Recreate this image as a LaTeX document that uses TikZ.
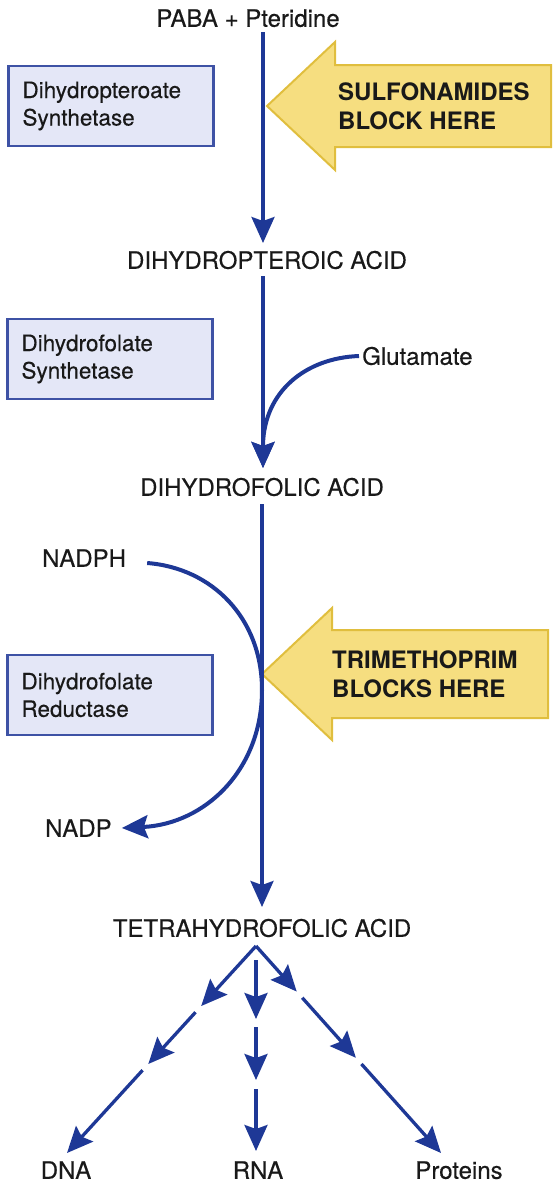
\documentclass[tikz,border=0pt]{standalone}
\usepackage{fontspec}
\setmainfont{TeX Gyre Heros}
\newfontfamily\heavy{TeX Gyre Heros}[FakeBold=0.35]
\usetikzlibrary{arrows.meta,calc}
\definecolor{flowblue}{RGB}{30,56,150}
\definecolor{boxfill}{RGB}{228,231,247}
\definecolor{boxline}{RGB}{62,82,165}
\definecolor{yfill}{RGB}{246,222,128}
\definecolor{yline}{RGB}{224,190,62}
\definecolor{txt}{RGB}{25,25,25}
\tikzset{
 lbl/.style={inner sep=0pt, text=txt, font=\heavy\fontsize{24}{28}\selectfont, text height=17.5pt, text depth=0pt},
 enzyme/.style={draw=boxline, line width=2.2pt, fill=boxfill, minimum width=205pt, minimum height=80pt, text width=177pt, inner xsep=14pt, align=left, font=\heavy\fontsize{22.5}{27.5}\selectfont, text=txt},
 blocker/.style={draw=yline, line width=2pt, fill=yfill, line join=miter},
 blocktext/.style={inner sep=0pt, align=left, font=\fontsize{24}{28.5}\selectfont\bfseries, text=txt},
 flow/.style={draw=flowblue, line width=3.3pt, -{Stealth[length=26pt,width=23pt,inset=4pt]}},
 side/.style={draw=flowblue, line width=4pt, -{Stealth[length=26pt,width=23pt,inset=4pt]}},
}
\begin{document}
\begin{tikzpicture}[x=1pt,y=-1pt]
\useasboundingbox (0,0) rectangle (559,1200);

% blockers
\draw[blocker] (267,106) -- (335,42) -- (335,65) -- (551,65) -- (551,147) -- (335,147) -- (335,170) -- cycle;
\node[blocktext, anchor=west] (sulfa) at (338,106) {SULFONAMIDES\\BLOCK HERE};
\draw[blocker] (262,674) -- (332,608) -- (332,630) -- (548,630) -- (548,718) -- (332,718) -- (332,740) -- cycle;
\node[blocktext, anchor=west] (tmp) at (332,674) {TRIMETHOPRIM\\BLOCKS HERE};

% enzymes
\node[enzyme] (dps) at (111,106) {Dihydropteroate\\Synthetase};
\node[enzyme] (dfs) at (110,359) {Dihydrofolate\\Synthetase};
\node[enzyme] (dfr) at (110,695) {Dihydrofolate\\Reductase};

% labels
\node[lbl] (paba) at (248,18) {PABA + Pteridine};
\node[lbl] (dhpa) at (267,260) {DIHYDROPTEROIC ACID};
\node[lbl] (dhfa) at (262,487) {DIHYDROFOLIC ACID};
\node[lbl] (thfa) at (262,928) {TETRAHYDROFOLIC ACID};
\node[lbl, anchor=west] (glu) at (362,356) {Glutamate};
\node[lbl, anchor=west] (nadph) at (42,558) {NADPH};
\node[lbl, anchor=west] (nadp) at (45,828) {NADP};
\node[lbl] (dna) at (66,1170) {DNA};
\node[lbl] (rna) at (258,1170) {RNA};
\node[lbl] (prot) at (459,1170) {Proteins};

% main pathway
\coordinate (a1s) at (263,32);
\coordinate (a1e) at (263,243);
\coordinate (a2s) at (263,276);
\coordinate (a2e) at (263,468);
\coordinate (a3s) at (262,504);
\coordinate (a3e) at (262,907);
\draw[flow] (a1s) -- (a1e);
\draw[flow] (a2s) -- (a2e);
\draw[flow] (a3s) -- (a3e);

% side substrates
\draw[side] ([xshift=-3pt]glu.west) .. controls (305,358) and (264,392) .. (263,445) -- (a2e);
\draw[side] ([xshift=21pt,yshift=-5pt]nadph.east) .. controls (212,568) and (262,618) .. (262,690)
  .. controls (262,770) and (205,824) .. ([xshift=10pt]nadp.east);

% products
\coordinate (apex) at (256,946);
\coordinate (dnaend) at (67,1153);
\coordinate (protend) at (441,1153);
\draw[flow] (apex) -- ($(apex)!0.29!(dnaend)$);
\draw[flow] ($(apex)!0.32!(dnaend)$) -- ($(apex)!0.57!(dnaend)$);
\draw[flow] ($(apex)!0.60!(dnaend)$) -- (dnaend);
\draw[flow] (apex) -- ($(apex)!0.22!(protend)$);
\draw[flow] ($(apex)!0.25!(protend)$) -- ($(apex)!0.54!(protend)$);
\draw[flow] ($(apex)!0.57!(protend)$) -- (protend);
\coordinate (r1) at (256,960);
\coordinate (r2) at (256,1019);
\coordinate (r3) at (256,1027);
\coordinate (r4) at (256,1080);
\coordinate (r5) at (256,1089);
\coordinate (r6) at (256,1151);
\draw[flow] (r1) -- (r2);
\draw[flow] (r3) -- (r4);
\draw[flow] (r5) -- (r6);
\end{tikzpicture}
\end{document}
